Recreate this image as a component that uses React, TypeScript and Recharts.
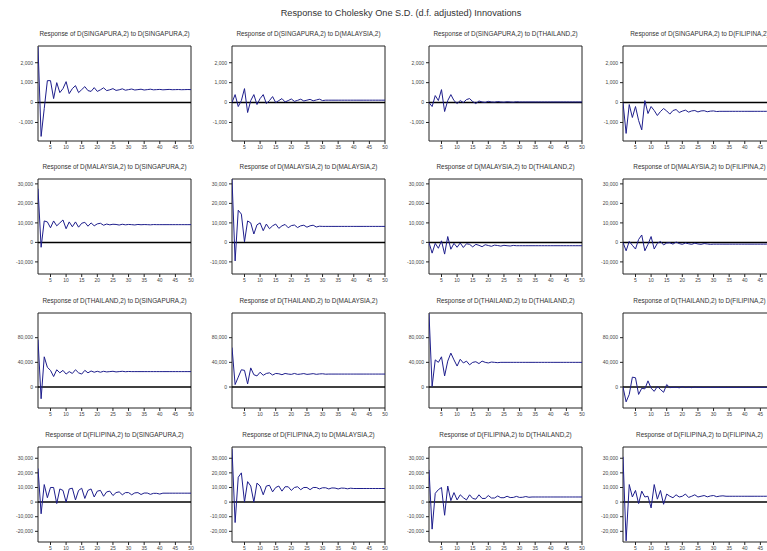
import React from 'react';
import { LineChart, Line, XAxis, YAxis, ReferenceLine, ReferenceArea } from 'recharts';

const countries = ['SINGAPURA', 'MALAYSIA', 'THAILAND', 'FILIPINA'];
const xTicks = [5, 10, 15, 20, 25, 30, 35, 40, 45, 50];

// responses of SINGAPURA
const sgSg = [2800, -1700, -300, 1100, 1100, 200, 1000, 500, 700, 1050, 450, 700, 850, 500, 650, 800, 600, 560, 750, 560,
  640, 740, 600, 640, 700, 610, 640, 690, 620, 650, 680, 630, 650, 670, 630, 650, 670, 640, 650, 660,
  640, 650, 660, 645, 650, 655, 645, 650, 655, 650];
const sgMy = [0, 400, -200, 100, 700, -500, 100, 400, -100, 200, 400, -50, 100, 300, 0, 100, 200, 30, 100, 180,
  60, 110, 170, 80, 120, 160, 90, 130, 170, 100, 120, 120, 120, 120, 120, 120, 120, 120, 120, 120,
  120, 120, 120, 120, 120, 120, 120, 120, 120, 120];
const sgTh = [0, -200, 350, 100, 650, -450, 100, 400, 100, -50, 100, 0, 150, 200, 50, -50, 80, 30, 10, 60,
  30, 20, 50, 30, 20, 40, 30, 20, 40, 30, 30, 30, 30, 30, 30, 30, 30, 30, 30, 30,
  30, 30, 30, 30, 30, 30, 30, 30, 30, 30];
const sgPh = [0, -1550, -100, -750, -200, -900, -1370, 100, -550, -200, -400, -650, -450, -300, -420, -580, -400, -350, -500, -430,
  -380, -480, -420, -400, -470, -420, -410, -460, -430, -420, -450, -440, -440, -440, -440, -440, -440, -440, -440, -440,
  -440, -440, -440, -440, -440, -440, -440, -440, -440, -440];

// responses of MALAYSIA
const mySg = [27500, -2500, 11000, 10500, 7500, 11000, 8500, 10000, 11500, 7000, 10500, 8000, 10500, 7800, 9800, 10300, 8300, 10000, 8500, 9500,
  9800, 8800, 9400, 9000, 9300, 9200, 8900, 9300, 9000, 9200, 9100, 8950, 9200, 9050, 9150, 9100, 9000, 9150, 9100, 9100,
  9100, 9100, 9100, 9100, 9100, 9100, 9100, 9100, 9100, 9100];
const myMy = [32500, -9500, 16500, 14500, 300, 11000, 10000, 4300, 9000, 10000, 6000, 9400, 7000, 8500, 9400, 7200, 8500, 9200, 7500, 8600,
  8900, 7600, 8500, 8800, 7800, 8500, 8800, 7900, 8300, 8200, 8200, 8200, 8200, 8200, 8200, 8200, 8200, 8200, 8200, 8200,
  8200, 8200, 8200, 8200, 8200, 8200, 8200, 8200, 8200, 8200];
const myTh = [0, -5500, -500, -3000, 800, -6000, 3000, -3500, -500, -2500, -300, -2600, -700, -1000, -2300, -1000, -1500, -2200, -1200, -1600,
  -2000, -1400, -1600, -1900, -1500, -1700, -1850, -1550, -1700, -1700, -1700, -1700, -1700, -1700, -1700, -1700, -1700, -1700, -1700, -1700,
  -1700, -1700, -1700, -1700, -1700, -1700, -1700, -1700, -1700, -1700];
const myPh = [0, -4300, 500, -1500, -3400, 1500, 3800, -4300, -1000, 3000, -3400, -500, 500, -1300, -300, -200, -900, 200, -600, -1000,
  -300, -700, -1000, -400, -800, -1000, -600, -800, -1000, -900, -900, -900, -900, -900, -900, -900, -900, -900, -900, -900,
  -900, -900, -900, -900, -900, -900, -900, -900, -900, -900];

// responses of THAILAND
const thSg = [77000, -19000, 49000, 32000, 27000, 17000, 28000, 23000, 27000, 21000, 25000, 22000, 28000, 23000, 21000, 27000, 23000, 26000, 24000, 25500,
  24000, 25500, 24500, 25000, 25500, 24500, 25000, 25500, 24800, 25200, 25000, 25000, 25000, 25000, 25000, 25000, 25000, 25000, 25000, 25000,
  25000, 25000, 25000, 25000, 25000, 25000, 25000, 25000, 25000, 25000];
const thMy = [64000, 4000, 16000, 28000, 27000, 5000, 31000, 20000, 18000, 24000, 19000, 22000, 23000, 19500, 22000, 21500, 20000, 22000, 21000, 20500,
  22000, 20500, 21000, 21800, 20500, 21000, 21700, 20600, 21200, 21500, 20800, 21000, 21000, 21000, 21000, 21000, 21000, 21000, 21000, 21000,
  21000, 21000, 21000, 21000, 21000, 21000, 21000, 21000, 21000, 21000];
const thTh = [119000, 1000, 44000, 40000, 49000, 18000, 42000, 55000, 44000, 34000, 45000, 39000, 42000, 36000, 40000, 41000, 38000, 42000, 40000, 39000,
  40500, 40000, 39500, 40000, 40000, 40000, 40000, 40000, 40000, 40000, 40000, 40000, 40000, 40000, 40000, 40000, 40000, 40000, 40000, 40000,
  40000, 40000, 40000, 40000, 40000, 40000, 40000, 40000, 40000, 40000];
const thPh = [0, -24000, -12000, 16000, 15000, -12000, -2000, -3000, 10000, -2000, -7000, 1000, -4000, -8500, 4000, -1000, -500, -300, -1200, 500,
  -800, -200, -1000, 0, -600, -400, -700, -300, -600, -500, -500, -500, -500, -500, -500, -500, -500, -500, -500, -500,
  -500, -500, -500, -500, -500, -500, -500, -500, -500, -500];

// responses of FILIPINA
const phSg = [23000, -8000, 12000, 3000, 10000, 10000, -1000, 9000, 8000, 0, 9000, 9500, 1500, 8000, 9500, 2500, 8000, 9000, 3500, 7500,
  8000, 4000, 7000, 7500, 4500, 6500, 7000, 5000, 6500, 6500, 5000, 6300, 6500, 5200, 6200, 6200, 5300, 6000, 6000, 5500,
  6100, 6100, 6100, 6100, 6100, 6100, 6100, 6100, 6100, 6100];
const phMy = [36500, -14000, 17000, 20000, 0, 14000, 11000, 0, 13000, 11000, 5000, 11000, 11500, 7000, 10000, 11000, 7500, 10500, 10500, 8000,
  10000, 10500, 8500, 10000, 10000, 8500, 10000, 10000, 9000, 9800, 9800, 9000, 9700, 9600, 9000, 9600, 9500, 9100, 9500, 9300,
  9300, 9300, 9300, 9300, 9300, 9300, 9300, 9300, 9300, 9300];
const phTh = [22000, -18500, 6000, 8500, 10000, -9000, 11000, 1000, 6500, 1500, 5000, 3000, 1500, 5000, 2500, 2000, 5000, 2500, 2500, 4500,
  2800, 2800, 4200, 3000, 3000, 4000, 3100, 3200, 3900, 3200, 3300, 3800, 3300, 3500, 3500, 3500, 3500, 3500, 3500, 3500,
  3500, 3500, 3500, 3500, 3500, 3500, 3500, 3500, 3500, 3500];
const phPh = [31000, -26500, 12000, 3500, 8000, -1000, 7500, 3500, 4000, -4000, 12000, 2000, 8000, -1500, 5500, 4000, 3000, 5000, 3500, 4000,
  5500, 3200, 4000, 5000, 3500, 4000, 4500, 3600, 4200, 4500, 3700, 4100, 4300, 4000, 4000, 4000, 4000, 4000, 4000, 4000,
  4000, 4000, 4000, 4000, 4000, 4000, 4000, 4000, 4000, 4000];

const responses = [
  [sgSg, sgMy, sgTh, sgPh],
  [mySg, myMy, myTh, myPh],
  [thSg, thMy, thTh, thPh],
  [phSg, phMy, phTh, phPh],
];

const rowDomains: [number, number][] = [
  [-1930, 2840],
  [-16200, 32500],
  [-34000, 120000],
  [-27300, 37700],
];
const rowTicks = [
  [-1000, 0, 1000, 2000],
  [-10000, 0, 10000, 20000, 30000],
  [0, 40000, 80000],
  [-20000, -10000, 0, 10000, 20000, 30000],
];

const COL_LEFT = [38, 232, 429, 623];
const ROW_TOP = [46, 179, 313, 447];
const BOX_W = 153;
const BOX_H = 95;
const Y_W = 38;
const TOP_M = 20;
const X_H = 14;

const fmt = (v: number) => v.toLocaleString('en-US');

const Panel = ({ r, c }: { r: number; c: number }) => {
  const data = responses[r][c].map((v, i) => ({ p: i + 1, v }));
  const dom = rowDomains[r];
  return (
    <>
      <div
        style={{
          position: 'absolute',
          left: COL_LEFT[c] - 40,
          width: BOX_W + 80,
          top: ROW_TOP[r] - 16,
          textAlign: 'center',
          fontSize: 6.4,
          lineHeight: '8px',
          color: '#333',
          whiteSpace: 'nowrap',
        }}
      >
        {`Response of D(${countries[r]},2) to D(${countries[c]},2)`}
      </div>
      <div style={{ position: 'absolute', left: COL_LEFT[c] - Y_W, top: ROW_TOP[r] - TOP_M }}>
        <LineChart
          width={Y_W + BOX_W + 4}
          height={TOP_M + BOX_H + X_H}
          data={data}
          margin={{ top: TOP_M, right: 4, bottom: 0, left: 0 }}
        >
          <XAxis
            dataKey="p"
            type="number"
            domain={[1, 50]}
            ticks={xTicks}
            interval={0}
            allowDataOverflow
            height={X_H}
            axisLine={false}
            tickSize={3}
            tickMargin={1}
            tickLine={{ stroke: '#222' }}
            tick={{ fontSize: 5, fill: '#444' }}
          />
          <YAxis
            type="number"
            domain={dom}
            ticks={rowTicks[r]}
            interval={0}
            allowDataOverflow
            width={Y_W}
            axisLine={false}
            tickSize={3}
            tickMargin={2}
            tickLine={{ stroke: '#222' }}
            tick={{ fontSize: 5, fill: '#444' }}
            tickFormatter={fmt}
          />
          <ReferenceArea x1={1} x2={50} y1={dom[0]} y2={dom[1]} fill="none" stroke="#222" strokeWidth={1} fillOpacity={0} />
          <ReferenceLine y={0} stroke="#000" strokeWidth={1.5} />
          <Line
            type="linear"
            dataKey="v"
            stroke="#1e1e8c"
            strokeWidth={1}
            dot={false}
            isAnimationActive={false}
          />
        </LineChart>
      </div>
    </>
  );
};

export default function App() {
  return (
    <div
      style={{
        position: 'absolute',
        left: 0,
        top: 0,
        width: 767,
        height: 551,
        overflow: 'hidden',
        background: '#fff',
        fontFamily: '"Liberation Sans", Arial, sans-serif',
      }}
    >
      <div
        style={{
          position: 'absolute',
          left: 0,
          width: 802,
          top: 8,
          textAlign: 'center',
          fontSize: 9.2,
          lineHeight: '11px',
          color: '#333',
        }}
      >
        Response to Cholesky One S.D. (d.f. adjusted) Innovations
      </div>
      {[0, 1, 2, 3].map((r) => [0, 1, 2, 3].map((c) => <Panel key={`${r}-${c}`} r={r} c={c} />))}
    </div>
  );
}
